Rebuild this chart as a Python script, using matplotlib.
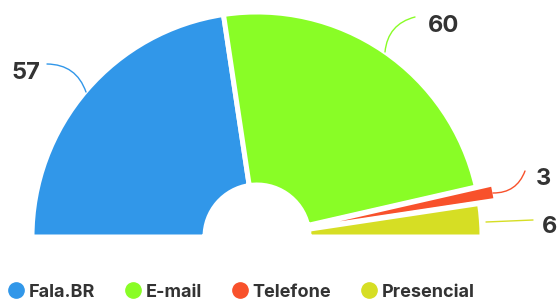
import matplotlib.pyplot as plt
from matplotlib.lines import Line2D

labels = ["Fala.BR", "E-mail", "Telefone", "Presencial"]
values = [57, 60, 3, 6]
colors = ["#3197E9", "#89FD26", "#F8512B", "#D6DE24"]
explode = [0, 0, 17, 0]

W, H = 559, 302
fig = plt.figure(figsize=(W / 100, H / 100), dpi=100)
ax = fig.add_axes([0, 0, 1, 1])

cx, cy = 257, H - 237
R, r = 225, 52

# bottom half is an invisible slice with the same total
vals = values + [sum(values)]
cols = colors + ["none"]
wedges, _ = ax.pie(vals, colors=cols, explode=explode + [0], startangle=180,
                   counterclock=False, center=(cx, cy), radius=R, frame=True,
                   wedgeprops=dict(width=R - r, edgecolor="white", linewidth=3.6))
wedges[-1].set_edgecolor("none")

ax.set_xlim(0, W)
ax.set_ylim(0, H)
ax.set_aspect("equal")
ax.axis("off")

# labels with leader lines (pixel positions, y from top)
lab_font = dict(family=["Inter", "DejaVu Sans"], weight="bold", size=17, color="#333333")
leaders = [
    ((86, 92), (47, 64), 0.35, (40, 73), "right"),
    ((385, 52), (415, 17), -0.35, (428, 26), "left"),
    ((493, 193), (525, 171), 0.35, (536, 179), "left"),
    ((486, 222), (533, 220), 0.0, (542, 227), "left"),
]
for i, (p0, p1, rad, tp, ha) in enumerate(leaders):
    ax.annotate("", xy=(p1[0], H - p1[1]), xytext=(p0[0], H - p0[1]),
                arrowprops=dict(arrowstyle="-", color=colors[i], lw=1,
                                connectionstyle=f"arc3,rad={rad}",
                                shrinkA=0, shrinkB=0))
    ax.text(tp[0], H - tp[1], str(values[i]), ha=ha, va="center", **lab_font)

handles = [Line2D([], [], marker="o", ls="none", markersize=11,
                  markerfacecolor=c, markeredgecolor=c) for c in colors]
leg = ax.legend(handles, labels, loc="lower left", bbox_to_anchor=(0.0, -0.02),
                ncol=4, frameon=False, handletextpad=0.2, columnspacing=1.6,
                handlelength=1.0, borderaxespad=0,
                prop=dict(family=["Inter", "DejaVu Sans"], weight="bold", size=13))
for t in leg.get_texts():
    t.set_color("#333333")

fig.savefig("out.png", dpi=100)
